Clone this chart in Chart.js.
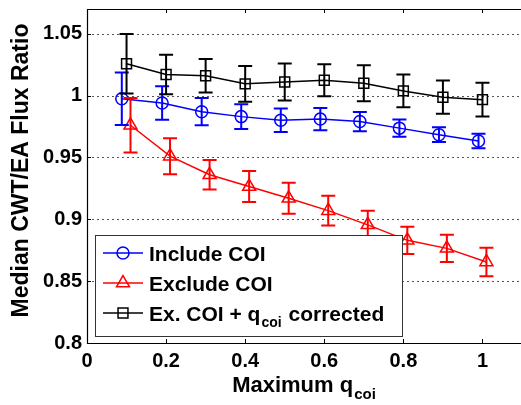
<!DOCTYPE html>
<html><head><meta charset="utf-8">
<script src="https://cdn.jsdelivr.net/npm/chart.js@4.4.0/dist/chart.umd.min.js"></script>
<style>html,body{margin:0;padding:0;background:#fff;overflow:hidden;width:521px;height:405px}
#wrap{width:531px;height:405px}</style></head>
<body><div id="wrap"><canvas id="c" width="531" height="405"></canvas></div>
<script>
const xTicks = [0, 0.2, 0.4, 0.6, 0.8, 1];
const xTickLabels = ['0', '0.2', '0.4', '0.6', '0.8', '1'];
const yTicks = [0.8, 0.85, 0.9, 0.95, 1, 1.05];
const yTickLabels = ['0.8', '0.85', '0.9', '0.95', '1', '1.05'];

const xInclude = [0.088, 0.19, 0.29, 0.39, 0.49, 0.59, 0.69, 0.79, 0.89, 0.99];
const yInclude = [0.9975, 0.994, 0.987, 0.983, 0.980, 0.981, 0.979, 0.9737, 0.9684, 0.9633];
const eInclude = [0.0212, 0.0135, 0.011, 0.010, 0.0095, 0.009, 0.0078, 0.007, 0.006, 0.0058];

const xExclude = [0.11, 0.21, 0.31, 0.41, 0.51, 0.61, 0.71, 0.81, 0.91, 1.01];
const yExclude = [0.976, 0.951, 0.936, 0.9265, 0.917, 0.907, 0.8955, 0.883, 0.8765, 0.8655];
const eExclude = [0.022, 0.0145, 0.012, 0.0125, 0.0125, 0.012, 0.0115, 0.011, 0.011, 0.0115];

const xCorrected = [0.1, 0.2, 0.3, 0.4, 0.5, 0.6, 0.7, 0.8, 0.9, 1.0];
const yCorrected = [1.0257, 1.017, 1.016, 1.0095, 1.011, 1.0124, 1.0100, 1.0038, 0.9987, 0.9967];
const eCorrected = [0.024, 0.016, 0.0135, 0.0145, 0.015, 0.013, 0.0145, 0.0133, 0.0134, 0.0136];

const seriesNames = ['Include COI', 'Exclude COI', 'Ex. COI + q'];
const FONT = "'Liberation Sans', Arial, Helvetica, sans-serif";

const series = [
  {xs: xInclude, ys: yInclude, es: eInclude, color: '#0000ff', style: 'circle', r: 6},
  {xs: xExclude, ys: yExclude, es: eExclude, color: '#ff0000', style: 'triangle', r: 7.5},
  {xs: xCorrected, ys: yCorrected, es: eCorrected, color: '#000000', style: 'rect', r: 7}
];

function marker(ctx, style, x, y, r) {
  ctx.beginPath();
  if (style === 'circle') {
    ctx.arc(x, y, r, 0, Math.PI * 2);
  } else if (style === 'triangle') {
    ctx.moveTo(x, y - r);
    ctx.lineTo(x + Math.sin(Math.PI / 3) * r, y + r / 2);
    ctx.lineTo(x - Math.sin(Math.PI / 3) * r, y + r / 2);
    ctx.closePath();
  } else {
    const s = r / Math.SQRT2;
    ctx.rect(x - s, y - s, 2 * s, 2 * s);
  }
  ctx.stroke();
}

const deco = {
  id: 'deco',
  beforeDatasetsDraw(chart) {
    const {ctx, chartArea: a, scales: {x, y}} = chart;
    ctx.save();
    ctx.strokeStyle = '#555';
    ctx.lineWidth = 1;
    ctx.setLineDash([2, 3]);
    yTicks.forEach(v => {
      if (v === yTicks[0]) return;
      const py = Math.round(y.getPixelForValue(v)) + 0.5;
      ctx.beginPath(); ctx.moveTo(a.left, py); ctx.lineTo(a.right, py); ctx.stroke();
    });
    ctx.restore();
  },
  afterDatasetsDraw(chart) {
    const {ctx, scales: {x, y}} = chart;
    ctx.save();
    ctx.lineWidth = 2;
    series.forEach(s => {
      ctx.strokeStyle = s.color;
      s.xs.forEach((xv, i) => {
        const px = x.getPixelForValue(xv);
        const pt = y.getPixelForValue(s.ys[i] + s.es[i]);
        const pb = y.getPixelForValue(s.ys[i] - s.es[i]);
        const w = 7;
        ctx.beginPath();
        ctx.moveTo(px, pt); ctx.lineTo(px, pb);
        ctx.moveTo(px - w, pt); ctx.lineTo(px + w, pt);
        ctx.moveTo(px - w, pb); ctx.lineTo(px + w, pb);
        ctx.stroke();
      });
    });
    ctx.restore();
  },
  afterDraw(chart) {
    const {ctx, chartArea: a, scales: {x, y}} = chart;
    ctx.save();
    ctx.strokeStyle = '#000';
    ctx.lineWidth = 1.2;
    ctx.beginPath();
    ctx.moveTo(a.left + 0.5, a.top + 0.5); ctx.lineTo(a.left + 0.5, a.bottom + 0.5); ctx.lineTo(a.right, a.bottom + 0.5);
    ctx.moveTo(a.left + 0.5, a.top + 0.5); ctx.lineTo(a.right, a.top + 0.5);
    ctx.stroke();
    ctx.lineWidth = 1;
    ctx.beginPath();
    xTicks.forEach(v => {
      const px = Math.round(x.getPixelForValue(v)) + 0.5;
      ctx.moveTo(px, a.bottom); ctx.lineTo(px, a.bottom - 4);
      ctx.moveTo(px, a.top); ctx.lineTo(px, a.top + 4);
    });
    yTicks.forEach(v => {
      const py = Math.round(y.getPixelForValue(v)) + 0.5;
      ctx.moveTo(a.left, py); ctx.lineTo(a.left + 4, py);
    });
    ctx.stroke();

    ctx.fillStyle = '#000';
    ctx.font = 'bold 23px ' + FONT;
    ctx.textAlign = 'center';
    ctx.textBaseline = 'alphabetic';
    ctx.save();
    ctx.translate(28, 170.5);
    ctx.rotate(-Math.PI / 2);
    ctx.fillText('Median CWT/EA Flux Ratio', 0, 0);
    ctx.restore();

    ctx.textAlign = 'left';
    const main = 'Maximum q';
    ctx.font = 'bold 22px ' + FONT;
    const w1 = ctx.measureText(main).width;
    ctx.font = 'bold 15px ' + FONT;
    const w2 = ctx.measureText('coi').width;
    const cx = (a.left + a.right) / 2 - 1;
    const sx = cx - (w1 + w2) / 2;
    ctx.font = 'bold 22px ' + FONT;
    ctx.fillText(main, sx, 391.5);
    ctx.font = 'bold 15px ' + FONT;
    ctx.fillText('coi', sx + w1 + 1, 399);

    const L = 95.5, T = 235.5, W = 307, H = 101;
    ctx.fillStyle = '#fff';
    ctx.fillRect(L, T, W, H);
    ctx.strokeStyle = '#333';
    ctx.lineWidth = 1;
    ctx.strokeRect(L, T, W, H);
    const rows = [253, 283, 313];
    series.forEach((s, i) => {
      const yy = rows[i];
      ctx.strokeStyle = s.color;
      ctx.lineWidth = 1.5;
      ctx.beginPath(); ctx.moveTo(103, yy); ctx.lineTo(143, yy); ctx.stroke();
      marker(ctx, s.style, 123, yy, s.r);
      ctx.fillStyle = '#000';
      ctx.font = 'bold 21px ' + FONT;
      ctx.fillText(seriesNames[i], 149, yy + 7.5);
      if (i === 2) {
        const tw = ctx.measureText(seriesNames[i]).width;
        ctx.font = 'bold 14px ' + FONT;
        ctx.fillText('coi', 149 + tw + 1, yy + 14);
        const sw = ctx.measureText('coi').width;
        ctx.font = 'bold 21px ' + FONT;
        ctx.fillText(' corrected', 149 + tw + sw + 2, yy + 7.5);
      }
    });
    ctx.restore();
  }
};

const datasets = series.map((s, i) => ({
  label: seriesNames[i],
  data: s.xs.map((xv, j) => ({x: xv, y: s.ys[j]})),
  borderColor: s.color,
  backgroundColor: 'rgba(0,0,0,0)',
  pointBackgroundColor: 'rgba(0,0,0,0)',
  pointBorderColor: s.color,
  pointStyle: s.style,
  pointRadius: s.r,
  pointBorderWidth: 1.5,
  borderWidth: 1.5,
  tension: 0,
  fill: false
}));

new Chart(document.getElementById('c'), {
  type: 'line',
  data: {datasets},
  options: {
    responsive: false,
    animation: false,
    devicePixelRatio: 1,
    layout: {padding: {top: 9, left: 0, right: 0, bottom: 0}},
    plugins: {legend: {display: false}, tooltip: {enabled: false}},
    scales: {
      x: {
        type: 'linear', min: 0, max: 1.1,
        grid: {display: false, drawTicks: false},
        border: {display: false},
        afterBuildTicks: s => { s.ticks = xTicks.map(v => ({value: v})); },
        afterFit: s => { s.height = 62; },
        ticks: {
          callback: (v, i) => xTickLabels[i],
          color: '#000', padding: 6, maxRotation: 0, autoSkip: false,
          font: {family: FONT, size: 20, weight: 'bold'}
        }
      },
      y: {
        type: 'linear', min: 0.8, max: 1.07,
        grid: {display: false, drawTicks: false},
        border: {display: false},
        afterBuildTicks: s => { s.ticks = yTicks.map(v => ({value: v})); },
        afterFit: s => { s.width = 87; s.paddingTop = 0; s.paddingBottom = 0; },
        ticks: {
          callback: (v, i) => yTickLabels[i],
          color: '#000', padding: 5, autoSkip: false,
          font: {family: FONT, size: 20, weight: 'bold'}
        }
      }
    }
  },
  plugins: [deco]
});
</script></body></html>
